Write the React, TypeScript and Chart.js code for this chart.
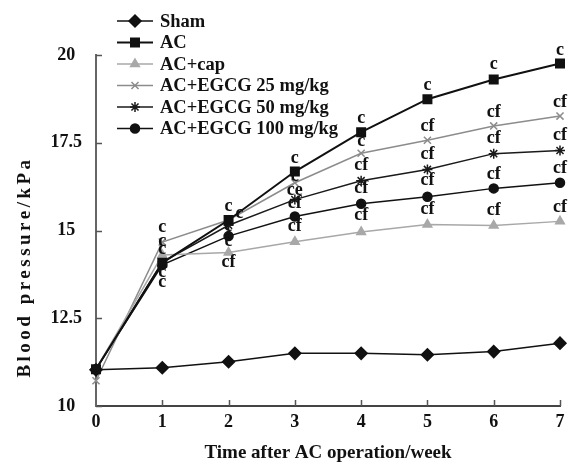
import React, { useEffect, useRef } from 'react';
import { Chart, registerables } from 'chart.js';
import { drawPoint } from 'chart.js/helpers';

Chart.register(...registerables);

// ---------- data ----------
const weeks = ['0', '1', '2', '3', '4', '5', '6', '7'];
const yTickValues = [10, 12.5, 15, 17.5, 20];
const seriesNames = ['Sham', 'AC', 'AC+cap', 'AC+EGCG 25 mg/kg', 'AC+EGCG 50 mg/kg', 'AC+EGCG 100 mg/kg'];

const shamValues = [11.03, 11.09, 11.26, 11.5, 11.5, 11.46, 11.55, 11.79];
const acValues = [11.05, 14.08, 15.3, 16.68, 17.8, 18.74, 19.3, 19.76];
const capValues = [11.05, 14.3, 14.37, 14.68, 14.96, 15.17, 15.14, 15.26];
const egcg25Values = [10.72, 14.67, 15.3, 16.36, 17.2, 17.57, 17.98, 18.26];
const egcg50Values = [11.05, 14.1, 15.15, 15.88, 16.42, 16.74, 17.19, 17.28];
const egcg100Values = [11.05, 14.02, 14.84, 15.4, 15.76, 15.96, 16.2, 16.36];

const shamLabels = ['', '', '', '', '', '', '', ''];
const acLabels = ['', 'c', 'c', 'c', 'c', 'c', 'c', 'c'];
const capLabels = ['', 'c', 'cf', 'cf', 'cf', 'cf', 'cf', 'cf'];
const egcg25Labels = ['', 'c', 'c', 'c', 'c', 'cf', 'cf', 'cf'];
const egcg50Labels = ['', 'c', 'c', 'ce', 'cf', 'cf', 'cf', 'cf'];
const egcg100Labels = ['', 'c', 'c', 'cf', 'cf', 'cf', 'cf', 'cf'];

// ---------- styles ----------
const FONT = '"Liberation Serif", "Times New Roman", Times, serif';
const seriesStyles = [
  { color: '#111111', width: 1.5, pointStyle: 'rectRot', radius: 6, fill: '#111111' },
  { color: '#111111', width: 2, pointStyle: 'rect', radius: 6, fill: '#111111' },
  { color: '#a8a8a8', width: 1.5, pointStyle: 'triangle', radius: 5, fill: '#a8a8a8' },
  { color: '#8c8c8c', width: 1.5, pointStyle: 'crossRot', radius: 5, fill: '#8c8c8c' },
  { color: '#1a1a1a', width: 1.5, pointStyle: 'star', radius: 5, fill: '#1a1a1a' },
  { color: '#111111', width: 1.5, pointStyle: 'circle', radius: 4.5, fill: '#111111' },
];
// per-point label offsets [dx, dy] in px (style only)
const labelOffsets: number[][][] = [
  [],
  [[0, 0], [0, -11], [0, -12], [0, -11], [0, -12], [0, -12], [0, -13], [0, -11]],
  [[0, 0], [0, -12], [0, 12], [0, -13], [0, -15], [0, -13], [0, -13], [0, -12]],
  [[0, 0], [0, -13], [11, -5], [0, -4], [0, -10], [0, -12], [0, -12], [0, -12]],
  [[0, 0], [0, 12], [0, 3], [0, -7], [0, -13], [0, -13], [0, -13], [0, -13]],
  [[0, 0], [0, 19], [0, 7], [0, -11], [0, -13], [0, -14], [0, -12], [0, -12]],
];

const allValues = [shamValues, acValues, capValues, egcg25Values, egcg50Values, egcg100Values];
const allLabels = [shamLabels, acLabels, capLabels, egcg25Labels, egcg50Labels, egcg100Labels];

const decorPlugin = {
  id: 'decor',
  afterDatasetsDraw(chart: any) {
    const ctx = chart.ctx;
    const xs = chart.scales.x;
    const ys = chart.scales.y;
    const area = chart.chartArea;
    ctx.save();
    // inward ticks
    ctx.strokeStyle = '#555';
    ctx.lineWidth = 1.5;
    ctx.beginPath();
    yTickValues.forEach((v) => {
      const py = Math.round(ys.getPixelForValue(v)) + 0.5;
      ctx.moveTo(area.left, py);
      ctx.lineTo(area.left + 6, py);
    });
    weeks.forEach((_, i) => {
      if (i === 0) return;
      const px = Math.round(xs.getPixelForValue(i)) + 0.5;
      ctx.moveTo(px, area.bottom);
      ctx.lineTo(px, area.bottom - 6);
    });
    ctx.stroke();

    // point annotations
    ctx.fillStyle = '#111';
    ctx.font = `bold 18px ${FONT}`;
    ctx.textAlign = 'center';
    ctx.textBaseline = 'middle';
    allLabels.forEach((labels, si) => {
      const meta = chart.getDatasetMeta(si);
      labels.forEach((t, j) => {
        if (!t) return;
        const pt = meta.data[j];
        const off = labelOffsets[si][j] || [0, -12];
        ctx.fillText(t, pt.x + off[0], pt.y + off[1] - 2);
      });
    });

    // legend
    const rowY0 = 21;
    const rowGap = 21.5;
    seriesNames.forEach((name, i) => {
      const st = seriesStyles[i];
      const y = rowY0 + i * rowGap;
      ctx.strokeStyle = st.color;
      ctx.lineWidth = st.width;
      ctx.beginPath();
      ctx.moveTo(117, y);
      ctx.lineTo(153, y);
      ctx.stroke();
      ctx.fillStyle = st.fill;
      ctx.strokeStyle = st.color;
      ctx.lineWidth = 1.5;
      drawPoint(ctx, { pointStyle: st.pointStyle, radius: st.radius, rotation: 0, borderWidth: 1.5 } as any, 135, y);
      ctx.fillStyle = '#111';
      ctx.font = `bold 18.5px ${FONT}`;
      ctx.textAlign = 'left';
      ctx.textBaseline = 'middle';
      ctx.fillText(name, 160, y + 1);
    });

    // y axis title
    ctx.save();
    ctx.translate(25, 267);
    ctx.rotate(-Math.PI / 2);
    ctx.textAlign = 'center';
    ctx.textBaseline = 'middle';
    ctx.font = `bold 19px ${FONT}`;
    (ctx as any).letterSpacing = '3.5px';
    ctx.fillStyle = '#111';
    ctx.fillText('Blood pressure/kPa', 0, 0);
    ctx.restore();

    ctx.restore();
  },
};

export default function App() {
  const ref = useRef<HTMLCanvasElement | null>(null);
  useEffect(() => {
    if (!ref.current) return;
    const chart = new Chart(ref.current, {
      type: 'line',
      data: {
        labels: weeks,
        datasets: seriesNames.map((name, i) => ({
          label: name,
          data: allValues[i],
          borderColor: seriesStyles[i].color,
          borderWidth: seriesStyles[i].width,
          pointStyle: seriesStyles[i].pointStyle as any,
          pointRadius: seriesStyles[i].radius,
          pointBackgroundColor: seriesStyles[i].fill,
          pointBorderColor: seriesStyles[i].color,
          pointBorderWidth: 1.5,
          tension: 0,
          fill: false,
        })),
      },
      options: {
        animation: false,
        responsive: false,
        maintainAspectRatio: false,
        layout: { padding: { top: 55, right: 11, left: 0, bottom: 0 } },
        plugins: { legend: { display: false }, tooltip: { enabled: false } },
        scales: {
          x: {
            type: 'category',
            offset: false,
            grid: { display: false, drawTicks: false },
            border: { display: true, color: '#444', width: 2 },
            ticks: {
              color: '#111',
              padding: 6,
              font: { family: FONT, size: 18, weight: 'bold' },
              maxRotation: 0,
            },
            title: {
              display: true,
              text: 'Time after AC operation/week',
              color: '#111',
              font: { family: FONT, size: 19, weight: 'bold', lineHeight: 1 },
              padding: { top: 0, bottom: 0 },
            },
            afterFit: (s: any) => {
              s.height = 57;
            },
          },
          y: {
            type: 'linear',
            min: 10,
            max: 20,
            grid: { display: false, drawTicks: false },
            border: { display: true, color: '#666', width: 2 },
            afterBuildTicks: (s: any) => {
              s.ticks = yTickValues.map((v) => ({ value: v }));
            },
            ticks: {
              color: '#111',
              padding: 14,
              crossAlign: 'center',
              font: { family: FONT, size: 18, weight: 'bold' },
              callback: (v: any) => String(v),
            },
            afterFit: (s: any) => {
              s.width = 96;
            },
          },
        },
      },
      plugins: [decorPlugin],
    });
    return () => chart.destroy();
  }, []);
  return (
    <div style={{ position: 'fixed', left: 0, top: 0, width: 571, height: 463, background: '#fff' }}>
      <canvas ref={ref} width={571} height={463} style={{ width: 571, height: 463 }} />
    </div>
  );
}
